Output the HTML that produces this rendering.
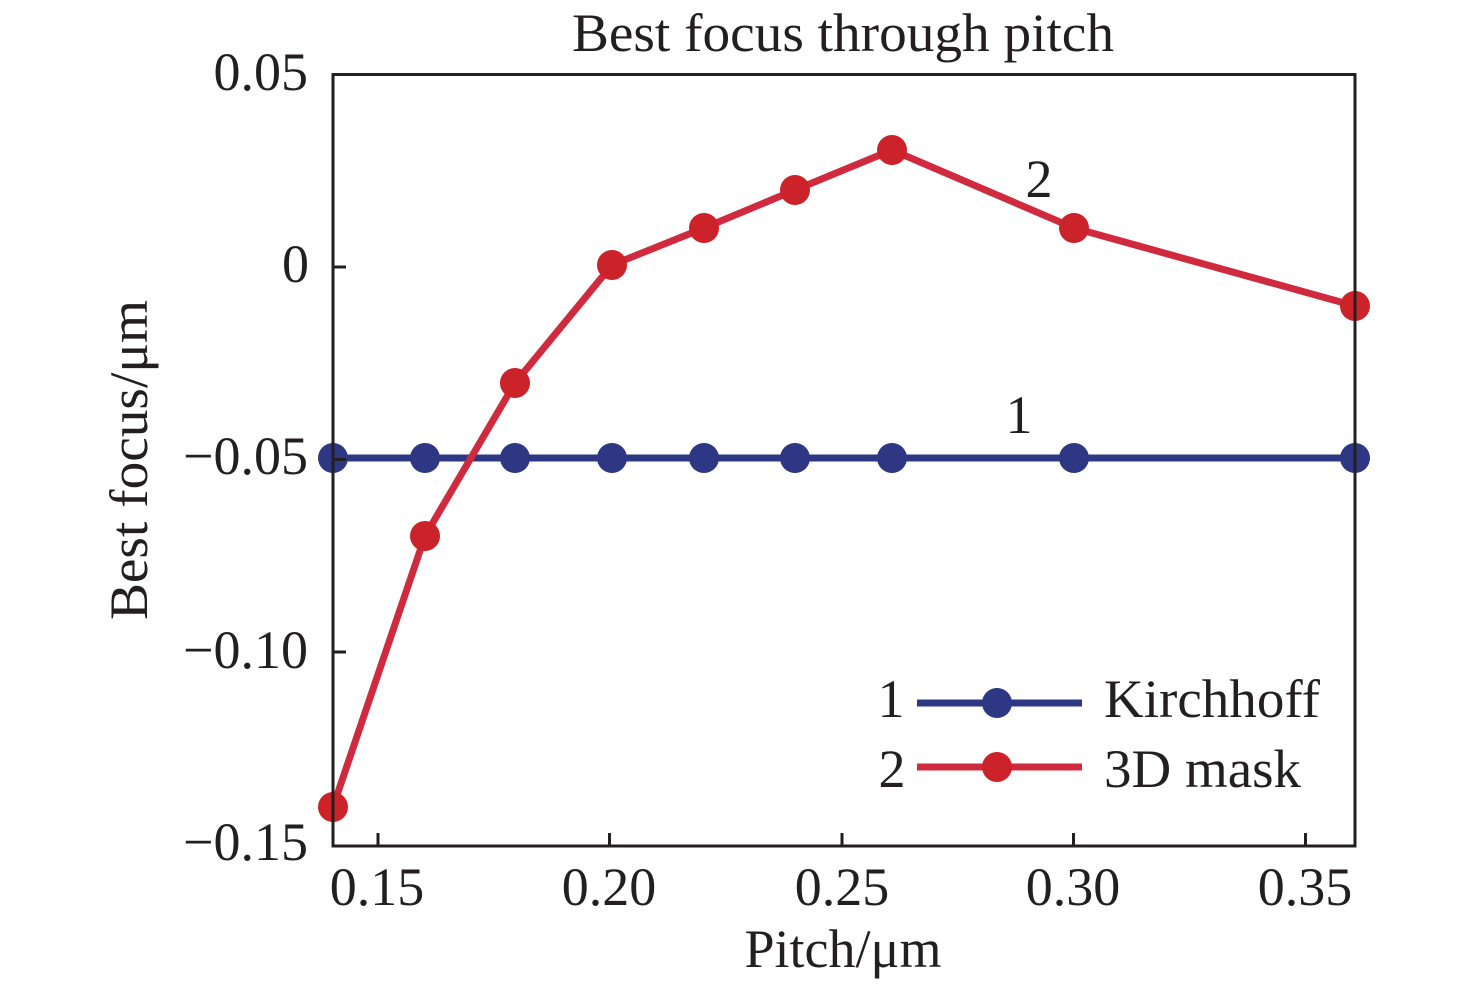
<!DOCTYPE html>
<html>
<head>
<meta charset="utf-8">
<style>
html,body{margin:0;padding:0;background:#fff;}
svg{display:block;}
text{font-family:"Liberation Serif","Times New Roman",serif;fill:#231f20;}
</style>
</head>
<body>
<svg width="1476" height="990" viewBox="0 0 1476 990" xmlns="http://www.w3.org/2000/svg">
  <rect width="1476" height="990" fill="#fff"/>
  <!-- Title -->
  <text x="843" y="51" font-size="54" text-anchor="middle" textLength="542" lengthAdjust="spacingAndGlyphs">Best focus through pitch</text>

  <!-- Y axis label -->
  <text transform="translate(147,460) rotate(-90)" font-size="54" text-anchor="middle" textLength="320" lengthAdjust="spacingAndGlyphs">Best focus/μm</text>

  <!-- X axis label -->
  <text x="843" y="967" font-size="54" text-anchor="middle">Pitch/μm</text>

  <!-- Y tick labels -->
  <g font-size="54" text-anchor="end">
    <text x="308" y="90">0.05</text>
    <text x="309" y="282">0</text>
    <text x="308" y="474">−0.05</text>
    <text x="308" y="668">−0.10</text>
    <text x="308" y="860">−0.15</text>
  </g>

  <!-- X tick labels -->
  <g font-size="54" text-anchor="middle">
    <text x="377" y="905">0.15</text>
    <text x="609" y="905">0.20</text>
    <text x="842" y="905">0.25</text>
    <text x="1073" y="905">0.30</text>
    <text x="1305" y="905">0.35</text>
  </g>

  <!-- Series 1: Kirchhoff (blue) -->
  <g>
    <polyline points="333,458 425,458 515,458 612,458 704,458 795,458 892,458 1074,458 1355,458" fill="none" stroke="#2e3784" stroke-width="7"/>
    <g fill="#2e3784">
      <circle cx="333" cy="458" r="15"/>
      <circle cx="425" cy="458" r="15"/>
      <circle cx="515" cy="458" r="15"/>
      <circle cx="612" cy="458" r="15"/>
      <circle cx="704" cy="458" r="15"/>
      <circle cx="795" cy="458" r="15"/>
      <circle cx="892" cy="458" r="15"/>
      <circle cx="1074" cy="458" r="15"/>
      <circle cx="1355" cy="458" r="15"/>
    </g>
  </g>

  <!-- Series 2: 3D mask (red) -->
  <g>
    <polyline points="333,807 425,536 515,383 612,265 704,228 795,190 892,150 1074,228 1355,306" fill="none" stroke="#d02a3e" stroke-width="7" stroke-linejoin="round"/>
    <g fill="#cc2229">
      <circle cx="333" cy="807" r="15"/>
      <circle cx="425" cy="536" r="15"/>
      <circle cx="515" cy="383" r="15"/>
      <circle cx="612" cy="265" r="15"/>
      <circle cx="704" cy="228" r="15"/>
      <circle cx="795" cy="190" r="15"/>
      <circle cx="892" cy="150" r="15"/>
      <circle cx="1074" cy="228" r="15"/>
      <circle cx="1355" cy="306" r="15"/>
    </g>
  </g>

  <!-- Curve labels -->
  <text x="1039" y="197" font-size="54" text-anchor="middle">2</text>
  <text x="1019" y="433" font-size="54" text-anchor="middle">1</text>

  <!-- Axes frame -->
  <rect x="333" y="74.5" width="1022" height="771.5" fill="none" stroke="#231f20" stroke-width="3"/>

  <!-- Ticks (inward) -->
  <g stroke="#231f20" stroke-width="3">
    <line x1="333" y1="267" x2="346" y2="267"/>
    <line x1="333" y1="459.5" x2="346" y2="459.5"/>
    <line x1="333" y1="652" x2="346" y2="652"/>
    <line x1="378" y1="846" x2="378" y2="833"/>
    <line x1="609.5" y1="846" x2="609.5" y2="833"/>
    <line x1="842" y1="846" x2="842" y2="833"/>
    <line x1="1073.5" y1="846" x2="1073.5" y2="833"/>
    <line x1="1305.5" y1="846" x2="1305.5" y2="833"/>
  </g>

  <!-- Legend -->
  <g>
    <text x="891" y="717" font-size="54" text-anchor="middle">1</text>
    <line x1="917" y1="703" x2="1082" y2="703" stroke="#2e3784" stroke-width="7"/>
    <circle cx="997" cy="703" r="15" fill="#2e3784"/>
    <text x="1104" y="717" font-size="54" textLength="216" lengthAdjust="spacingAndGlyphs">Kirchhoff</text>

    <text x="892" y="787" font-size="54" text-anchor="middle">2</text>
    <line x1="917" y1="767" x2="1082" y2="767" stroke="#d02a3e" stroke-width="7"/>
    <circle cx="997" cy="767" r="15" fill="#cc2229"/>
    <text x="1104" y="787" font-size="54" textLength="197" lengthAdjust="spacingAndGlyphs">3D mask</text>
  </g>
</svg>
</body>
</html>
